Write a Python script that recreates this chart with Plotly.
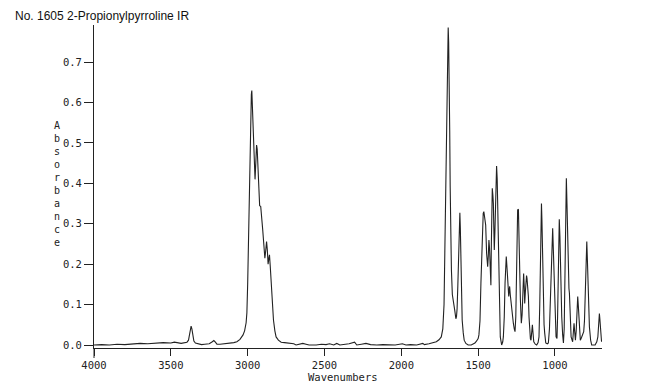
import plotly.graph_objects as go

# Spectrum (wavenumber cm-1, absorbance)
wavenumbers = [
    4000, 3950, 3900, 3850, 3800, 3750, 3700, 3650, 3600, 3550, 3500, 3477, 3433, 3400,
    3395, 3385, 3378, 3372, 3368, 3363, 3357, 3350, 3340, 3320, 3300, 3280, 3250, 3230,
    3220, 3210, 3200, 3180, 3150, 3120, 3090, 3070, 3050, 3030, 3020, 3010, 3005, 3000,
    2995, 2990, 2985, 2980, 2976, 2973, 2968, 2963, 2957, 2952, 2946, 2942, 2938, 2932,
    2926, 2922, 2915, 2908, 2902, 2895, 2888, 2882, 2877, 2872, 2867, 2862, 2858, 2853,
    2848, 2840, 2832, 2823, 2815, 2800, 2782, 2760, 2728, 2700, 2685, 2660, 2641, 2620,
    2600, 2554, 2520, 2490, 2467, 2440, 2420, 2400, 2370, 2340, 2304, 2290, 2260, 2230,
    2200, 2160, 2120, 2080, 2040, 1993, 1970, 1940, 1900, 1860, 1850, 1820, 1790, 1772,
    1755, 1740, 1730, 1722, 1717, 1712, 1706, 1700, 1697, 1695, 1692, 1689, 1685, 1682,
    1678, 1674, 1668, 1663, 1658, 1652, 1645, 1641, 1637, 1632, 1628, 1623, 1619, 1616,
    1613, 1608, 1604, 1597, 1591, 1580, 1565, 1545, 1530, 1521, 1510, 1500, 1495, 1488,
    1482, 1476, 1471, 1467, 1463, 1458, 1451, 1445, 1438, 1434, 1430, 1426, 1423, 1417,
    1414, 1412, 1408, 1404, 1401, 1398, 1395, 1391, 1388, 1384, 1380, 1376, 1373, 1368,
    1364, 1360, 1356, 1347, 1340, 1336, 1330, 1325, 1320, 1317, 1312, 1308, 1304, 1301,
    1298, 1295, 1291, 1286, 1278, 1271, 1265, 1260, 1255, 1251, 1247, 1243, 1238, 1235,
    1232, 1228, 1225, 1219, 1214, 1210, 1206, 1204, 1200, 1197, 1193, 1188, 1185, 1182,
    1177, 1173, 1169, 1165, 1160, 1156, 1151, 1147, 1143, 1138, 1128, 1119, 1110, 1104,
    1099, 1095, 1091, 1088, 1085, 1082, 1078, 1075, 1071, 1067, 1060, 1050, 1043, 1036,
    1030, 1025, 1022, 1018, 1015, 1011, 1008, 1004, 1002, 998, 993, 987, 983, 980,
    976, 972, 968, 965, 960, 956, 950, 945, 940, 937, 933, 930, 926, 922,
    919, 916, 913, 909, 906, 900, 895, 885, 880, 876, 871, 867, 862, 858,
    852, 847, 843, 838, 835, 828, 822, 817, 813, 808, 804, 798, 793, 789,
    785, 780, 776, 768, 761, 739, 728, 721, 716, 711, 708, 704, 700, 697,
]
absorbance = [
    0.0, 0.001, 0.0, 0.002, 0.001, 0.003, 0.004, 0.003, 0.004, 0.006, 0.005, 0.007, 0.004, 0.006,
    0.007, 0.012, 0.025, 0.042, 0.047, 0.04, 0.022, 0.01, 0.005, 0.002, 0.001, 0.002, 0.003, 0.008,
    0.011, 0.007, 0.002, 0.002, 0.003, 0.004, 0.006, 0.008, 0.014, 0.025, 0.035, 0.055, 0.08, 0.15,
    0.243, 0.40, 0.50, 0.574, 0.62, 0.63, 0.58, 0.53, 0.46, 0.41, 0.46, 0.495, 0.485, 0.441,
    0.37, 0.345, 0.343, 0.32, 0.285, 0.25, 0.215, 0.235, 0.256, 0.235, 0.2, 0.215, 0.223, 0.195,
    0.16, 0.105, 0.062, 0.035, 0.02, 0.012, 0.007, 0.006, 0.004, 0.003, 0.0, 0.002, 0.004, 0.002,
    0.0, 0.0, 0.002, 0.001, 0.003, 0.0, 0.004, 0.0, 0.001, 0.003, 0.007, 0.0, 0.002, 0.004,
    0.001, 0.0, 0.001, 0.0, 0.0, 0.003, 0.0, 0.001, 0.0, 0.004, 0.001, 0.003, 0.005, 0.008,
    0.013, 0.02, 0.04, 0.1, 0.227, 0.38, 0.557, 0.738, 0.77, 0.786, 0.75, 0.68, 0.53, 0.392,
    0.27, 0.186, 0.125, 0.105, 0.1, 0.085, 0.065, 0.07, 0.09, 0.15, 0.227, 0.29, 0.327, 0.29,
    0.227, 0.12, 0.062, 0.03, 0.012, 0.004, 0.0, 0.0, 0.002, 0.005, 0.01, 0.016, 0.025, 0.06,
    0.153, 0.25, 0.3, 0.326, 0.33, 0.32, 0.297, 0.227, 0.194, 0.22, 0.26, 0.24, 0.21, 0.148,
    0.25, 0.334, 0.388, 0.37, 0.35, 0.29, 0.235, 0.28, 0.318, 0.4, 0.443, 0.41, 0.359, 0.25,
    0.153, 0.07, 0.02, 0.0, 0.008, 0.02, 0.07, 0.153, 0.2, 0.219, 0.19, 0.161, 0.13, 0.12,
    0.135, 0.145, 0.125, 0.103, 0.075, 0.054, 0.04, 0.033, 0.07, 0.153, 0.25, 0.334, 0.336, 0.3,
    0.235, 0.16, 0.111, 0.054, 0.075, 0.111, 0.16, 0.177, 0.145, 0.103, 0.13, 0.169, 0.172, 0.165,
    0.145, 0.12, 0.07, 0.025, 0.015, 0.012, 0.03, 0.05, 0.03, 0.008, 0.002, 0.0, 0.006, 0.02,
    0.1, 0.235, 0.32, 0.35, 0.31, 0.235, 0.12, 0.054, 0.05, 0.03, 0.005, 0.003, 0.005, 0.04,
    0.111, 0.2, 0.235, 0.27, 0.289, 0.24, 0.186, 0.14, 0.128, 0.08, 0.02, 0.016, 0.07, 0.153,
    0.25, 0.311, 0.27, 0.21, 0.13, 0.07, 0.025, 0.005, 0.04, 0.111, 0.22, 0.318, 0.413, 0.35,
    0.276, 0.2, 0.153, 0.14, 0.128, 0.06, 0.02, 0.008, 0.03, 0.054, 0.03, 0.012, 0.035, 0.07,
    0.12, 0.09, 0.054, 0.025, 0.012, 0.018, 0.025, 0.03, 0.033, 0.06, 0.111, 0.2, 0.256, 0.21,
    0.153, 0.09, 0.045, 0.012, 0.0, 0.0, 0.008, 0.02, 0.045, 0.078, 0.065, 0.037, 0.012, 0.008,
]

x_ticks = [4000, 3500, 3000, 2500, 2000, 1500, 1000]
y_ticks = [0.0, 0.1, 0.2, 0.3, 0.4, 0.5, 0.6, 0.7]
title_text = "No. 1605 2-Propionylpyrroline IR"
x_title = "Wavenumbers"
y_title = "Absorbance"

ink = "#222222"
mono = "DejaVu Sans Mono"

# The page body adds an 8px offset, so the figure is drawn 8px smaller/shifted.
# Plot area in figure pixels: x 86..594, y 17..340
FW, FH = 642, 380
L, T = 86, 17
PW, PH = 508, 323

fig = go.Figure()
fig.add_trace(go.Scatter(
    x=wavenumbers, y=absorbance, mode="lines",
    line=dict(color=ink, width=1.1), hoverinfo="skip", showlegend=False,
))

fig.update_layout(
    width=FW, height=FH,
    margin=dict(l=L, r=FW - L - PW, t=T, b=FH - T - PH, autoexpand=False),
    paper_bgcolor="white", plot_bgcolor="white",
    showlegend=False,
    xaxis=dict(
        range=[4000, 694], tickvals=x_ticks, ticktext=[str(v) for v in x_ticks],
        automargin=False,
        showgrid=False, zeroline=False, showline=True, linecolor=ink, linewidth=1,
        ticks="outside", ticklen=7, tickcolor=ink, tickwidth=1,
        tickfont=dict(family=mono, size=10.5, color=ink),
    ),
    yaxis=dict(
        range=[-0.0074, 0.792], tickvals=y_ticks, ticktext=[f"{v:.1f}" for v in y_ticks],
        automargin=False,
        showgrid=False, zeroline=False, showline=True, linecolor=ink, linewidth=1,
        ticks="outside", ticklen=9, tickcolor=ink, tickwidth=1,
        tickfont=dict(family=mono, size=10.5, color=ink),
    ),
)

fig.add_annotation(
    text=title_text, xref="paper", yref="paper", x=(5 - L)/PW, y=1 + (T - 8)/PH,
    xanchor="left", yanchor="middle", showarrow=False,
    font=dict(family="Liberation Sans, Arial", size=12, color="#111111"),
)
fig.add_annotation(
    text=x_title, xref="paper", yref="paper", x=(335 - L)/PW, y=-29/PH,
    xanchor="center", yanchor="middle", showarrow=False,
    font=dict(family=mono, size=10.5, color=ink),
)
fig.add_annotation(
    text="<br>".join(list(y_title)), xref="paper", yref="paper",
    x=(49 - L)/PW, y=(T + PH - 175.5)/PH, xanchor="center", yanchor="middle",
    showarrow=False, font=dict(family=mono, size=10, color=ink),
)
# y-axis line extends a little below the x-axis as in the scan
fig.add_shape(type="line", xref="paper", yref="paper", x0=0, x1=0, y0=-10/PH, y1=0,
              line=dict(color=ink, width=1))

fig.write_html("out.html")
